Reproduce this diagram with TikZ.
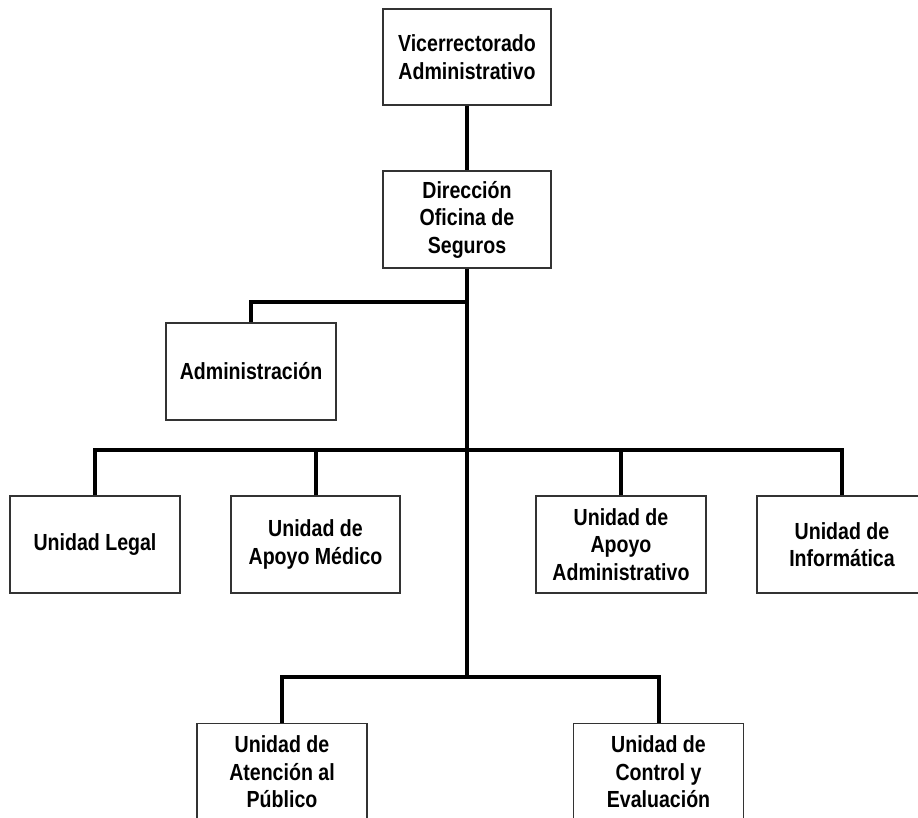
\documentclass[tikz,border=0pt]{standalone}
\usepackage{fontspec}
\setmainfont{Liberation Sans}
\newfontfamily\boxfont[FakeStretch=0.84]{Liberation Sans}
\begin{document}
\begin{tikzpicture}[x=1pt,y=-1pt,
  unitbox/.style={draw=black!80, line width=1.2pt, fill=white, minimum width=170pt, minimum height=97pt,
    inner sep=0pt, align=center, font=\boxfont\bfseries\fontsize{23.3}{27.5}\selectfont},
  link/.style={line width=4pt, line join=miter, line cap=butt}]
\useasboundingbox (0,0) rectangle (918,818);
\clip (0,0) rectangle (918,818);
\node[unitbox, minimum width=168pt, minimum height=96pt] (V) at (467,57) {Vicerrectorado\\Administrativo};
\node[unitbox, minimum width=168pt, minimum height=97pt] (D) at (467,219.5) {Dirección\\Oficina de\\Seguros};
\node[unitbox] (A) at (251,371.5) {Administración};
\node[unitbox] (L) at (95,544.5) {Unidad Legal};
\node[unitbox, minimum width=169pt] (M) at (315.5,544.5) {Unidad de\\Apoyo Médico};
\node[unitbox] (P) at (621,544.5) {Unidad de\\Apoyo\\Administrativo};
\node[unitbox] (I) at (842,544.5) {Unidad de\\Informática};
\node[unitbox] (T) at (282,772) {Unidad de\\Atención al\\Público};
\node[unitbox] (C) at (658.5,772) {Unidad de\\Control y\\Evaluación};
\coordinate (j1) at (467,302);
\coordinate (j2) at (467,450);
\coordinate (j3) at (467,677);
\draw[link] (V) -- (D);
\draw[link] (D.south) -- (j3);
\draw[link] (j1) -| (A.north);
\draw[link] (L.north) |- (I.north |- j2) -- (I.north);
\draw[link] (M.north) -- (M.north |- j2);
\draw[link] (P.north) -- (P.north |- j2);
\draw[link] (T.north) |- (C.north |- j3) -- (C.north);
\end{tikzpicture}
\end{document}
